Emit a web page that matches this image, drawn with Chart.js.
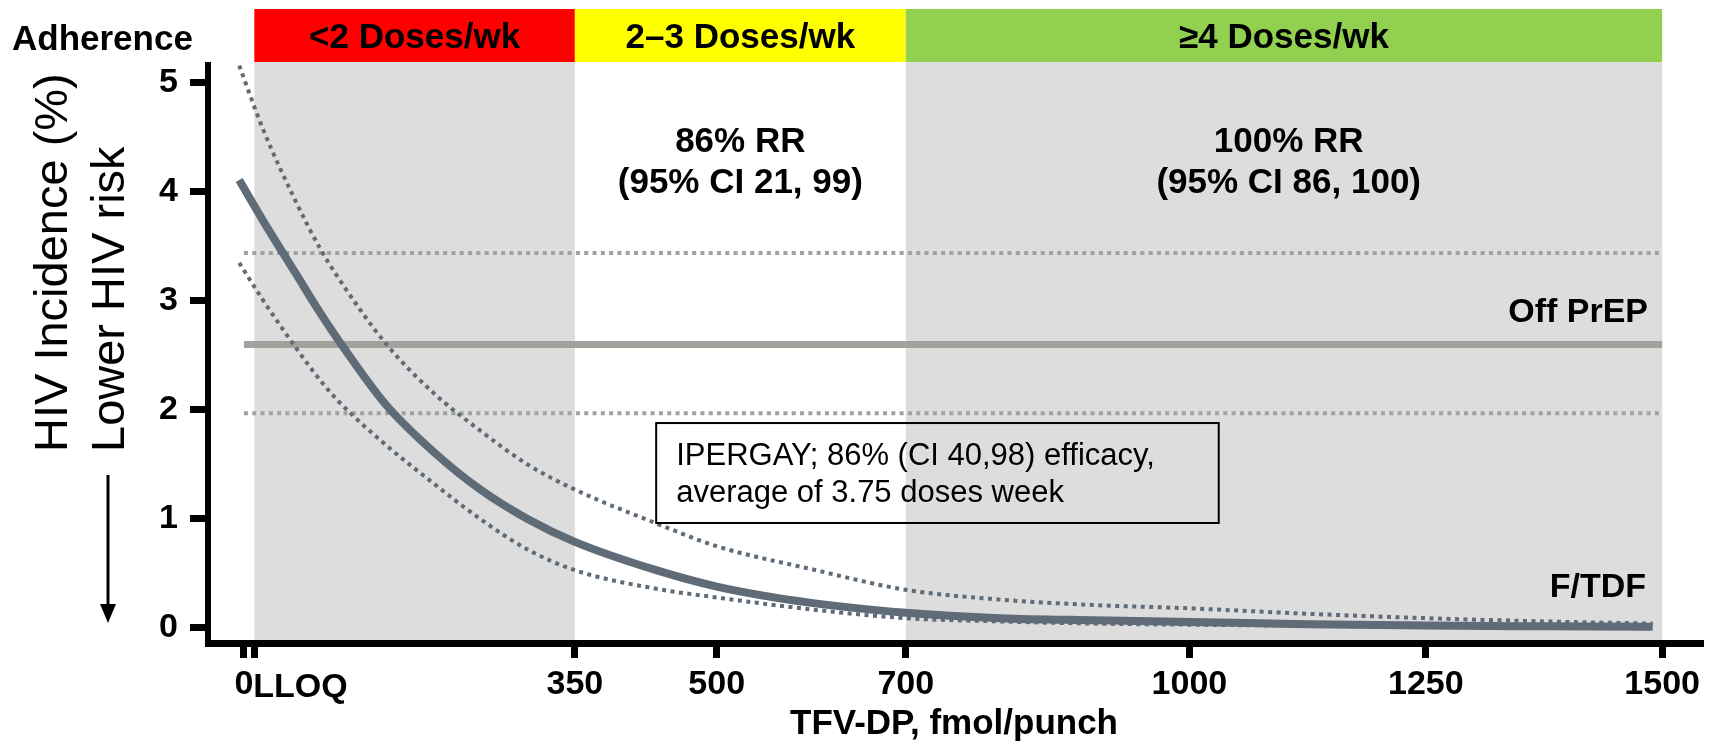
<!DOCTYPE html>
<html>
<head>
<meta charset="utf-8">
<script src="https://cdn.jsdelivr.net/npm/chart.js@4.4.1/dist/chart.umd.min.js"></script>
<style>
  html, body { margin: 0; padding: 0; background: #fff; }
</style>
</head>
<body>
<canvas id="chart" width="1715" height="744"></canvas>
<script>
// Values
const LLOQ = 11;
const xTicks = [0, LLOQ, 350, 500, 700, 1000, 1250, 1500];
const yTicks = [0, 1, 2, 3, 4, 5];

// TFV-DP (fmol/punch) and modelled HIV incidence (%)
const doseX    = [-5, 20, 55, 80, 100, 150, 200, 250, 300, 350, 436, 500, 600, 700, 800, 900, 1000, 1125, 1250, 1375, 1490];
const incidence = [4.11, 3.74, 3.25, 2.90, 2.64, 2.05, 1.62, 1.27, 1.00, 0.79, 0.53, 0.38, 0.23, 0.14, 0.09, 0.07, 0.055, 0.035, 0.022, 0.015, 0.01];
const ciUpper  = [5.16, 4.58, 3.91, 3.49, 3.21, 2.61, 2.16, 1.81, 1.50, 1.27, 0.96, 0.75, 0.54, 0.35, 0.26, 0.21, 0.18, 0.13, 0.09, 0.06, 0.04];
const ciLower  = [3.35, 3.01, 2.57, 2.28, 2.08, 1.68, 1.33, 1.00, 0.72, 0.53, 0.36, 0.28, 0.17, 0.09, 0.06, 0.04, 0.03, 0.02, 0.01, 0.008, 0.005];

// Off PrEP incidence and its CI
const offPrepX = [0, 1500];
const offPrep = 2.6;
const offPrepLow = 1.97;
const offPrepHigh = 3.44;

// Adherence bands
const bandEdges = [LLOQ, 350, 700, 1500];
const bandLabels = ["<2 Doses/wk", "2\u20133 Doses/wk", "\u22654 Doses/wk"];
const bandColors = ["#ff0000", "#ffff00", "#92d050"];
const shadedBands = [[LLOQ, 350], [700, 1500]];

const FONT = '"Liberation Sans", Arial, Helvetica, sans-serif';
const CURVE = "#5f6b77";
const REF = "#a2a29c";

const pts = (xs, ys) => xs.map((x, i) => ({ x: x, y: ys[i] }));
const flat = (v) => offPrepX.map((x) => ({ x: x, y: v }));

const decor = {
  id: "decor",
  beforeDraw(chart) {
    const { ctx, chartArea, scales: { x } } = chart;
    ctx.save();
    // grey shading
    ctx.fillStyle = "#dddddd";
    shadedBands.forEach(([a, b]) => {
      const x1 = x.getPixelForValue(a), x2 = x.getPixelForValue(b);
      ctx.fillRect(x1, chartArea.top - 3, x2 - x1, chartArea.bottom - chartArea.top + 3);
    });
    // adherence bar
    for (let i = 0; i < bandLabels.length; i++) {
      const x1 = x.getPixelForValue(bandEdges[i]), x2 = x.getPixelForValue(bandEdges[i + 1]);
      ctx.fillStyle = bandColors[i];
      ctx.fillRect(x1, chartArea.top - 56, x2 - x1, 53);
      ctx.fillStyle = "#000";
      ctx.font = "bold 35px " + FONT;
      ctx.textAlign = "center";
      ctx.textBaseline = "alphabetic";
      ctx.fillText(bandLabels[i], (x1 + x2) / 2, chartArea.top - 17);
    }
    ctx.font = "bold 35px " + FONT;
    ctx.textAlign = "left";
    ctx.fillText("Adherence", 12, chartArea.top - 15);
    ctx.restore();
  },
  afterDraw(chart) {
    const { ctx, scales: { x, y } } = chart;
    ctx.save();
    ctx.fillStyle = "#000";
    ctx.textBaseline = "alphabetic";

    // y axis title, two rotated lines
    ctx.font = "47px " + FONT;
    ctx.textAlign = "left";
    [["HIV Incidence (%)", 67], ["Lower HIV risk", 124]].forEach(([t, bx]) => {
      ctx.save();
      ctx.translate(bx, 452);
      ctx.rotate(-Math.PI / 2);
      ctx.fillText(t, 0, 0);
      ctx.restore();
    });
    // arrow
    ctx.strokeStyle = "#000";
    ctx.lineWidth = 3;
    ctx.beginPath();
    ctx.moveTo(108, 475);
    ctx.lineTo(108, 608);
    ctx.stroke();
    ctx.beginPath();
    ctx.moveTo(100, 604);
    ctx.lineTo(116, 604);
    ctx.lineTo(108, 623);
    ctx.closePath();
    ctx.fill();

    // LLOQ tick label
    ctx.font = "bold 34px " + FONT;
    ctx.textAlign = "left";
    ctx.fillText("LLOQ", x.getPixelForValue(LLOQ) - 1, 697);

    // RR annotations
    ctx.font = "bold 35px " + FONT;
    ctx.textAlign = "center";
    ctx.fillText("86% RR", x.getPixelForValue(525), y.getPixelForValue(4.37));
    ctx.fillText("(95% CI 21, 99)", x.getPixelForValue(525), y.getPixelForValue(3.99));
    ctx.fillText("100% RR", x.getPixelForValue(1105), y.getPixelForValue(4.37));
    ctx.fillText("(95% CI 86, 100)", x.getPixelForValue(1105), y.getPixelForValue(3.99));

    ctx.font = "bold 34px " + FONT;
    ctx.textAlign = "right";
    ctx.fillText("Off PrEP", x.getPixelForValue(1485), y.getPixelForValue(2.81));
    ctx.fillText("F/TDF", x.getPixelForValue(1483), y.getPixelForValue(0.28));

    // IPERGAY box
    const bx1 = x.getPixelForValue(436), bx2 = x.getPixelForValue(1031);
    const by1 = y.getPixelForValue(1.88), by2 = y.getPixelForValue(0.963);
    ctx.lineWidth = 2;
    ctx.strokeRect(bx1, by1, bx2 - bx1, by2 - by1);
    ctx.font = "31px " + FONT;
    ctx.textAlign = "left";
    ctx.fillText("IPERGAY; 86% (CI 40,98) efficacy,", bx1 + 20, by1 + 42);
    ctx.fillText("average of 3.75 doses week", bx1 + 20, by1 + 79);
    ctx.restore();
  }
};

new Chart(document.getElementById("chart"), {
  type: "scatter",
  data: {
    datasets: [
      {
        label: "F/TDF",
        data: pts(doseX, incidence),
        showLine: true,
        borderColor: CURVE,
        borderWidth: 8,
        pointRadius: 0,
        cubicInterpolationMode: "monotone",
        order: 0,
      },
      {
        label: "Upper CI",
        data: pts(doseX, ciUpper),
        showLine: true,
        borderColor: CURVE,
        borderWidth: 4,
        borderDash: [4, 4.5],
        pointRadius: 0,
        cubicInterpolationMode: "monotone",
        order: 1,
      },
      {
        label: "Lower CI",
        data: pts(doseX, ciLower),
        showLine: true,
        borderColor: CURVE,
        borderWidth: 4,
        borderDash: [4, 4.5],
        pointRadius: 0,
        cubicInterpolationMode: "monotone",
        order: 2,
      },
      {
        label: "Off PrEP",
        data: flat(offPrep),
        showLine: true,
        borderColor: REF,
        borderWidth: 7,
        pointRadius: 0,
        order: 3,
      },
      {
        label: "Off PrEP high",
        data: flat(offPrepHigh),
        showLine: true,
        borderColor: REF,
        borderWidth: 4,
        borderDash: [4, 4.3],
        pointRadius: 0,
        order: 4,
      },
      {
        label: "Off PrEP low",
        data: flat(offPrepLow),
        showLine: true,
        borderColor: REF,
        borderWidth: 4,
        borderDash: [4, 4.3],
        pointRadius: 0,
        order: 5,
      },
    ],
  },
  options: {
    responsive: false,
    animation: false,
    devicePixelRatio: 1,
    layout: { padding: { top: 65, right: 15, left: 0, bottom: 0 } },
    plugins: { legend: { display: false }, tooltip: { enabled: false } },
    scales: {
      x: {
        type: "linear",
        min: -38,
        max: 1540,
        afterBuildTicks: (s) => { s.ticks = xTicks.map((v) => ({ value: v })); },
        afterFit: (s) => { s.height = 101; s.paddingLeft = 0; s.paddingRight = 0; },
        ticks: {
          autoSkip: false,
          maxRotation: 0,
          padding: 6,
          color: "#000",
          font: { family: FONT, size: 34, weight: "bold" },
          callback: (v) => (v === LLOQ ? "" : String(v)),
        },
        grid: { drawOnChartArea: false, tickLength: 15, tickWidth: 7, tickColor: "#000", lineWidth: 7, color: "#000" },
        border: { color: "#000", width: 7 },
        title: {
          display: true,
          text: "TFV-DP, fmol/punch",
          color: "#000",
          font: { family: FONT, size: 35, weight: "bold", lineHeight: 1.1 },
          padding: 0,
        },
      },
      y: {
        min: -0.138,
        max: 5.165,
        afterBuildTicks: (s) => { s.ticks = yTicks.map((v) => ({ value: v })); },
        afterFit: (s) => { s.width = 208; s.paddingTop = 0; s.paddingBottom = 0; },
        ticks: {
          padding: 12,
          color: "#000",
          font: { family: FONT, size: 34, weight: "bold" },
        },
        grid: { drawOnChartArea: false, tickLength: 18, tickWidth: 7, tickColor: "#000", lineWidth: 7, color: "#000" },
        border: { color: "#000", width: 6 },
      },
    },
  },
  plugins: [decor],
});
</script>
</body>
</html>
